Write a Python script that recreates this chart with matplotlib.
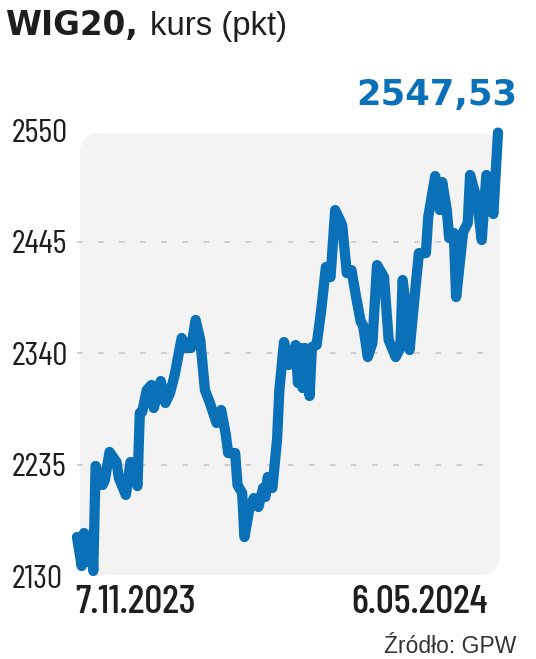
import matplotlib
matplotlib.use("Agg")
import matplotlib.pyplot as plt
from matplotlib.patches import FancyBboxPatch
from matplotlib.transforms import IdentityTransform
import pandas as pd

# ---- data ----
dates = [
    "2023-11-07", "2023-11-09", "2023-11-10", "2023-11-12", "2023-11-13", "2023-11-14",
    "2023-11-15", "2023-11-18", "2023-11-19", "2023-11-21", "2023-11-24", "2023-11-25",
    "2023-11-28", "2023-11-30", "2023-12-01", "2023-12-03", "2023-12-04", "2023-12-05",
    "2023-12-07", "2023-12-09", "2023-12-10", "2023-12-13", "2023-12-15", "2023-12-17",
    "2023-12-19", "2023-12-22", "2023-12-24", "2023-12-26", "2023-12-28", "2023-12-30",
    "2024-01-01", "2024-01-03", "2024-01-06", "2024-01-08", "2024-01-10", "2024-01-11",
    "2024-01-14", "2024-01-15", "2024-01-17", "2024-01-18", "2024-01-20", "2024-01-22",
    "2024-01-24", "2024-01-26", "2024-01-27", "2024-01-28", "2024-01-30", "2024-02-01",
    "2024-02-02", "2024-02-04", "2024-02-06", "2024-02-09", "2024-02-10", "2024-02-11",
    "2024-02-12", "2024-02-13", "2024-02-15", "2024-02-16", "2024-02-18", "2024-02-20",
    "2024-02-22", "2024-02-24", "2024-02-26", "2024-02-29", "2024-03-02", "2024-03-04",
    "2024-03-06", "2024-03-08", "2024-03-09", "2024-03-11", "2024-03-13", "2024-03-15",
    "2024-03-18", "2024-03-20", "2024-03-23", "2024-03-25", "2024-03-26", "2024-03-27",
    "2024-03-29", "2024-03-31", "2024-04-02", "2024-04-05", "2024-04-06", "2024-04-09",
    "2024-04-11", "2024-04-12", "2024-04-14", "2024-04-15", "2024-04-17", "2024-04-18",
    "2024-04-21", "2024-04-23", "2024-04-24", "2024-04-27", "2024-04-29", "2024-05-01",
    "2024-05-02", "2024-05-04", "2024-05-06",
]
values = [
    2166.7, 2139.4, 2170.5, 2143.2, 2168.6, 2134.7,
    2233.6, 2215.7, 2220.4, 2246.8, 2237.3, 2222.3,
    2206.3, 2237.3, 2234.5, 2214.7, 2283.5, 2284.4,
    2305.1, 2309.9, 2288.2, 2313.6, 2292.9, 2302.3,
    2319.3, 2354.1, 2344.7, 2344.7, 2371.1, 2352.2,
    2305.1, 2293.8, 2274.1, 2286.3, 2262.8, 2245.8,
    2245.8, 2215.7, 2208.2, 2166.7, 2192.1, 2203.4,
    2195.0, 2212.9, 2204.4, 2223.2, 2212.9, 2258.1,
    2305.1, 2350.3, 2328.7, 2347.5, 2311.7, 2344.7,
    2307.0, 2344.7, 2299.5, 2345.6, 2347.5, 2380.5,
    2421.0, 2411.5, 2474.6, 2460.5, 2415.3, 2418.1,
    2392.7, 2369.2, 2366.3, 2336.2, 2349.4, 2422.8,
    2411.5, 2352.2, 2336.2, 2344.7, 2408.7, 2389.9,
    2342.8, 2389.9, 2434.1, 2434.1, 2468.0, 2506.6,
    2474.6, 2501.0, 2474.6, 2448.3, 2453.0, 2392.7,
    2453.9, 2462.4, 2507.6, 2484.0, 2446.4, 2507.6,
    2504.8, 2470.9, 2547.53,
]
y_ticks = [2130, 2235, 2340, 2445, 2550]
grid_levels = [2235, 2340, 2445]
x_labels = ["7.11.2023", "6.05.2024"]
title_bold = "WIG20,"
title_rest = "kurs (pkt)"
last_label = "2547,53"
source = "Źródło: GPW"

BLUE = "#0a70b8"
DARK = "#1e1e1e"
COND = ["Barlow Condensed", "Roboto Condensed", "DejaVu Sans"]

W, H, DPI = 536, 659, 100
fig = plt.figure(figsize=(W / DPI, H / DPI), dpi=DPI)
fig.patch.set_facecolor("white")

x = pd.to_datetime(dates)

left, right, top, bottom = 77, 498, 130, 576
ax = fig.add_axes([left / W, (H - bottom) / H, (right - left) / W, (bottom - top) / H])
ax.patch.set_visible(False)
for s in ax.spines.values():
    s.set_visible(False)

panel = FancyBboxPatch((80, H - 575), 420, 442,
                       boxstyle="round,pad=0,rounding_size=20",
                       transform=IdentityTransform(), facecolor="#f3f3f3",
                       edgecolor="none", zorder=0, clip_on=False)
ax.add_artist(panel)

ax.set_xlim(x[0], x[-1])
ax.set_ylim(y_ticks[0], y_ticks[-1])

ax.hlines(grid_levels, x[0], x[-1] - pd.Timedelta(days=3), colors="#c4c4c4",
          linewidth=1.1, linestyles=(0, (3.6, 10.2)), zorder=1)

ax.plot(x, values, color=BLUE, linewidth=7.4, solid_joinstyle="round",
        solid_capstyle="round", clip_on=False, zorder=3)

ax.set_yticks(y_ticks)
ax.set_yticklabels([str(v) for v in y_ticks])
ax.tick_params(axis="y", length=0, pad=46.8)
ax.set_xticks([])
ylabs = ax.get_yticklabels()
for lab in ylabs:
    lab.set_horizontalalignment("left")
    lab.set_fontfamily(COND)
    lab.set_fontweight("normal")
    lab.set_fontsize(30)
    lab.set_color(DARK)

xfont = dict(family=COND, fontsize=30, fontweight="medium", color=DARK)
xl0 = ax.annotate(x_labels[0], xy=(x[0], 0), xycoords=("data", "axes fraction"),
                  xytext=(-1.5, -26.6), textcoords="offset points",
                  ha="left", va="baseline", annotation_clip=False, **xfont)
xl1 = ax.annotate(x_labels[1], xy=(x[-1], 0), xycoords=("data", "axes fraction"),
                  xytext=(-7.2, -26.6), textcoords="offset points",
                  ha="right", va="baseline", annotation_clip=False, **xfont)

fig.text(5 / W, 1 - 35 / H, title_bold, family="DejaVu Sans", fontweight="bold",
         fontsize=23.5, color=DARK, ha="left", va="baseline")
fig.text(150 / W, 1 - 35 / H, title_rest, family=["Liberation Sans", "DejaVu Sans"],
         fontsize=23.7, color=DARK, ha="left", va="baseline")
fig.text(517 / W, 1 - 105 / H, last_label, family="DejaVu Sans", fontweight="bold",
         fontsize=25.5, color=BLUE, ha="right", va="baseline")
fig.text(516 / W, 1 - 653 / H, source, family=["Liberation Sans", "DejaVu Sans"],
         fontsize=16.5, color="#333333", ha="right", va="baseline")

# fit the condensed label sizes to the measured widths of the reference
fig.canvas.draw()
r = fig.canvas.get_renderer()
w_tick = ylabs[-1].get_window_extent(r).width
for lab in ylabs:
    lab.set_fontsize(30 * 56.0 / w_tick)
w_x = xl0.get_window_extent(r).width
for t in (xl0, xl1):
    t.set_fontsize(30 * 121.0 / w_x)

fig.savefig("out.png", dpi=DPI)
